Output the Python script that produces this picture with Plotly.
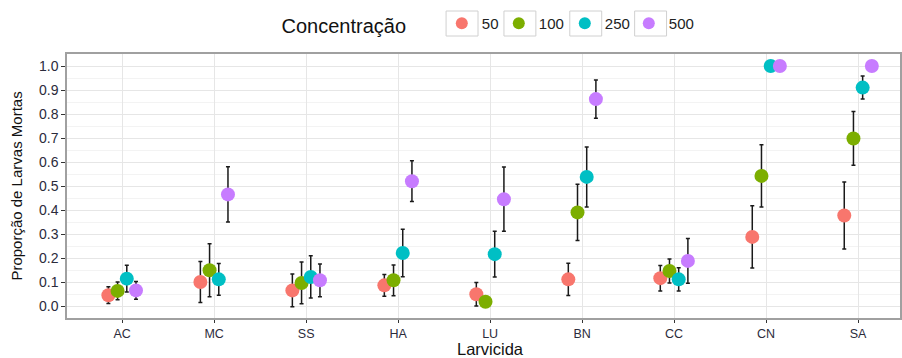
import plotly.graph_objects as go

categories = ["AC", "MC", "SS", "HA", "LU", "BN", "CC", "CN", "SA"]
concentrations = ["50", "100", "250", "500"]
colors = ["#F8766D", "#7CAE00", "#00BFC4", "#C77CFF"]

mean_50 = [0.045, 0.100, 0.065, 0.086, 0.049, 0.111, 0.116, 0.288, 0.377]
err_50 = [0.035, 0.085, 0.068, 0.045, 0.049, 0.067, 0.053, 0.130, 0.140]
mean_100 = [0.063, 0.149, 0.096, 0.107, 0.018, 0.390, 0.146, 0.542, 0.698]
err_100 = [0.037, 0.110, 0.087, 0.064, 0.000, 0.117, 0.050, 0.130, 0.112]
mean_250 = [0.114, 0.111, 0.121, 0.221, 0.216, 0.538, 0.111, 1.000, 0.910]
err_250 = [0.056, 0.066, 0.088, 0.099, 0.095, 0.125, 0.048, 0.000, 0.048]
mean_500 = [0.065, 0.465, 0.107, 0.520, 0.445, 0.862, 0.188, 1.000, 1.000]
err_500 = [0.037, 0.115, 0.068, 0.085, 0.134, 0.080, 0.093, 0.000, 0.000]

means = [mean_50, mean_100, mean_250, mean_500]
errs = [err_50, err_100, err_250, err_500]
legend_widths = [12, 21, 19, 30]

fig = go.Figure()
for name, col, m, e, lw in zip(concentrations, colors, means, errs, legend_widths):
    fig.add_trace(go.Scatter(
        x=categories, y=m, name=name, mode="markers",
        marker=dict(color=col, size=14, line=dict(width=0)),
        error_y=dict(type="data", array=e, visible=True, color="#1a1a1a",
                     thickness=1.5, width=2),
        legendwidth=lw,
    ))

# legend key boxes (ggplot-style), in pixel terms converted to paper coords
L, T, W, H = 67, 54, 835, 264
def px_x(p):
    return (p - L) / W
def px_y(p):
    return (T + H - p) / H

key_centers = [463, 521, 587, 652]
shapes = []
for c in key_centers:
    shapes.append(dict(type="rect", xref="paper", yref="paper",
                       x0=px_x(c - 16), x1=px_x(c + 16), y0=px_y(36), y1=px_y(11),
                       line=dict(color="#d0d0d0", width=1), fillcolor="rgba(0,0,0,0)",
                       layer="above"))

fig.update_layout(
    width=902, height=358,
    margin=dict(l=L, r=0, t=T, b=40),
    paper_bgcolor="white", plot_bgcolor="white",
    font=dict(family="Liberation Sans, Arial, sans-serif", color="#222222"),
    scattermode="group", scattergap=0.6,
    showlegend=True,
    legend=dict(
        orientation="h", x=px_x(280), xanchor="left", y=px_y(25), yanchor="middle",
        bgcolor="rgba(0,0,0,0)",
        title=dict(text="Concentração     ", font=dict(size=20, color="#111111")),
        font=dict(size=15, color="#222222"),
        entrywidthmode="pixels",
        itemsizing="constant",
    ),
    xaxis=dict(
        type="category", range=[-0.6, 8.456],
        showgrid=True, gridcolor="#e6e6e6", gridwidth=1,
        showline=True, linecolor="#a0a0a0", linewidth=1.5, mirror=True,
        ticks="outside", ticklen=3, tickcolor="#333333",
        tickfont=dict(size=12.5, color="#2b2b3b"),
        zeroline=False,
    ),
    yaxis=dict(
        range=[-0.05, 1.05], dtick=0.1, tick0=0, tickformat=".1f",
        showgrid=True, gridcolor="#e6e6e6", gridwidth=1,
        minor=dict(dtick=0.05, showgrid=True, gridcolor="#f3f3f3", gridwidth=1),
        showline=True, linecolor="#a0a0a0", linewidth=1.5, mirror=True,
        ticks="outside", ticklen=4, tickcolor="#333333",
        tickfont=dict(size=14, color="#2b2b3b"),
        title=dict(text="Proporção de Larvas Mortas", font=dict(size=15, color="#111111"), standoff=13),
        zeroline=False,
    ),
    shapes=shapes,
    annotations=[dict(
        text="Larvicida", x=4, xref="x", y=0, yref="paper", yshift=-20,
        yanchor="top", showarrow=False, font=dict(size=16.5, color="#111111"),
    )],
)

fig.write_html("out.html")
